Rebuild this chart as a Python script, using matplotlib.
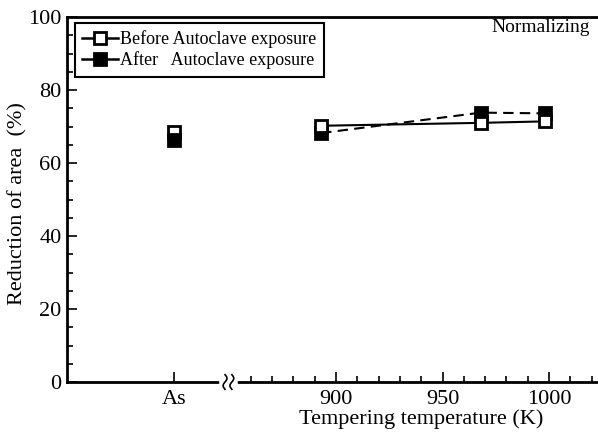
import numpy as np
import matplotlib
matplotlib.use("Agg")
import matplotlib.pyplot as plt
from matplotlib.lines import Line2D

plt.rcParams["font.family"] = ["Liberation Serif", "DejaVu Serif"]

# data
as_before = 68.6
as_after = 66.4
temps = [893, 968, 998]
before = [70.2, 71.0, 71.4]
after = [68.2, 73.8, 73.6]

x_as = 824          # position used for the "As" category on the K scale
x_break = 849.5
x_left, x_right = 773.7, 1023

fig = plt.figure(figsize=(5.98, 4.33), dpi=100)
ax = fig.add_axes([67 / 598, 51 / 433, 1 - 67 / 598, 365 / 433])

ax.plot(temps, before, color="black", lw=1.5, zorder=2)
ax.plot(temps, after, color="black", lw=1.5, ls=(0, (5, 3)), zorder=2)

ms = 8.5
ax.plot([x_as], [as_before], ls="none", marker="s", ms=ms, mfc="white",
        mec="black", mew=2, zorder=3)
ax.plot([x_as], [as_after], ls="none", marker="s", ms=ms, mfc="black",
        mec="black", mew=2, zorder=3)
ax.plot(temps, after, ls="none", marker="s", ms=ms, mfc="black",
        mec="black", mew=2, zorder=3)
ax.plot(temps, before, ls="none", marker="s", ms=ms, mfc="white",
        mec="black", mew=2, zorder=4)

ax.set_xlim(x_left, x_right)
ax.set_ylim(0, 100)

ax.set_xticks([x_as, 900, 950, 1000])
ax.set_xticklabels(["As", "900", "950", "1000"])
ax.set_xticks(np.arange(860, 1021, 10), minor=True)
ax.set_yticks(np.arange(0, 101, 20))
ax.set_yticks(np.arange(0, 101, 5), minor=True)

ax.tick_params(which="both", direction="in", width=1.2, labelsize=16,
               top=False, right=False)
ax.tick_params(which="major", length=7)
ax.tick_params(which="minor", length=4)
ax.tick_params(axis="x", pad=6)
ax.tick_params(axis="y", pad=4)

for s in ["left", "bottom", "top"]:
    ax.spines[s].set_linewidth(2)
ax.spines["right"].set_visible(False)

# axis break on the x axis
bt = ax.get_xaxis_transform()
ax.plot([x_break - 3.2, x_break + 3.2], [0, 0], color="white", lw=4,
        transform=bt, clip_on=False, zorder=5)
t = np.linspace(-1, 1, 30)
for dx in (-1.6, 1.6):
    ax.plot(x_break + dx + 0.9 * np.sin(t * np.pi), 0.02 * t, color="black",
            lw=1.2, transform=bt, clip_on=False, zorder=6)

ax.set_ylabel("Reduction of area  (%)", fontsize=16)
ax.yaxis.set_label_coords(-0.075, 0.49)
ax.set_xlabel("Tempering temperature (K)", fontsize=16)
ax.xaxis.set_label_coords(0.667, -0.074)

ax.text(590 / 598, 1 - 28 / 433, "Normalizing", transform=fig.transFigure,
        ha="right", va="center", fontsize=14)

handles = [
    Line2D([], [], color="black", lw=1.8, marker="s", ms=8, mfc="white",
           mec="black", mew=2),
    Line2D([], [], color="black", lw=1.8, marker="s", ms=8, mfc="black",
           mec="black", mew=2),
]
leg = ax.legend(handles, ["Before Autoclave exposure", "After   Autoclave exposure"],
                loc="upper left", bbox_to_anchor=(0.015, 0.984), fontsize=13,
                handlelength=2.0, handletextpad=0.1, borderpad=0.4,
                borderaxespad=0, labelspacing=0.2, fancybox=False,
                edgecolor="black", framealpha=1)
leg.get_frame().set_linewidth(1.5)

fig.savefig("out.png", dpi=100)
